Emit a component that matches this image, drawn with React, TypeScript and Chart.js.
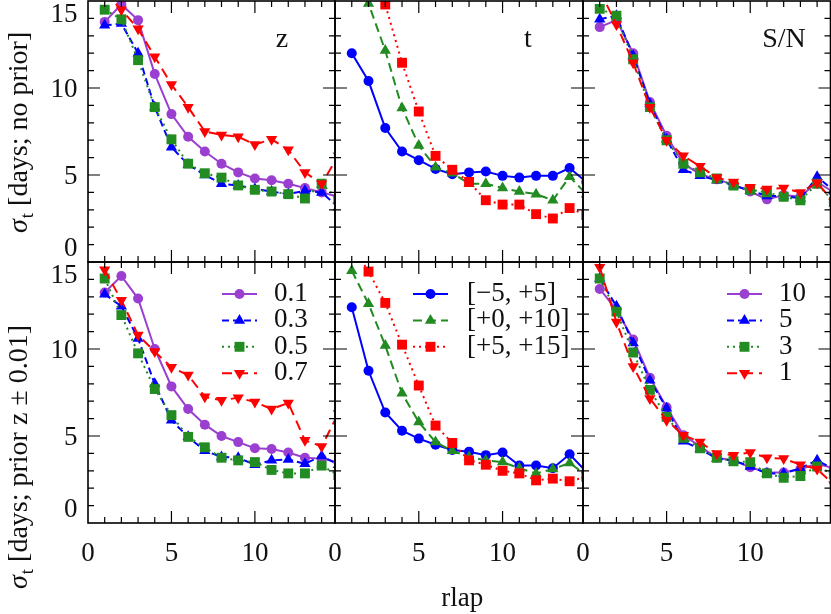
import React, { useEffect, useRef } from 'react';
import { Chart, registerables } from 'chart.js';

Chart.register(...registerables);

const W = 831;
const H = 614;

// ---------- data ----------
const rlap = [1, 2, 3, 4, 5, 6, 7, 8, 9, 10, 11, 12, 13, 14, 15];

// redshift panel, no prior
const zNoPrior01 = [13.8, 14.8, 13.9, 10.8, 8.5, 7.2, 6.35, 5.65, 5.15, 4.8, 4.7, 4.5, 4.25, 4.0, 3.75];
const zNoPrior03 = [13.6, 13.7, 12.0, 8.9, 6.6, 5.6, 5.0, 4.5, 4.4, 4.2, 4.05, 3.9, 4.1, 4.0, 3.15];
const zNoPrior05 = [14.5, 13.95, 11.6, 8.9, 7.05, 5.65, 5.1, 4.85, 4.4, 4.15, 4.05, 3.9, 3.65, 4.5, 3.6];
const zNoPrior07 = [15.5, 14.5, 13.4, 11.8, 10.2, 8.9, 7.5, 7.3, 7.2, 6.75, 7.05, 6.45, 5.15, 4.5, 6.1];

// phase panel, no prior
const tNoPriorM5P5 = [12.0, 10.4, 7.7, 6.35, 5.85, 5.35, 5.05, 5.15, 5.2, 4.95, 4.85, 4.95, 4.95, 5.4, 4.6];
const tNoPriorP0P10 = [17.5, 14.85, 12.15, 8.85, 6.7, 5.45, 5.1, 4.5, 4.5, 4.25, 4.05, 3.9, 3.55, 4.9, 3.9];
const tNoPriorP5P15 = [21.0, 18.0, 14.8, 11.45, 8.65, 6.1, 5.3, 4.6, 3.55, 3.3, 3.3, 2.75, 2.5, 3.1, 2.7];

// S/N panel, no prior
const snNoPrior10 = [13.5, 13.9, 12.0, 9.2, 7.25, 5.65, 5.05, 4.75, 4.45, 4.05, 3.6, 3.85, 3.75, 4.6, 4.0];
const snNoPrior5 = [13.95, 14.15, 11.85, 9.1, 7.05, 5.3, 4.95, 4.7, 4.4, 4.1, 3.8, 3.8, 3.65, 4.9, 4.1];
const snNoPrior3 = [14.55, 14.15, 11.65, 8.9, 7.0, 5.65, 5.15, 4.8, 4.4, 4.15, 4.0, 3.75, 3.55, 4.5, 3.45];
const snNoPrior1 = [15.6, 13.65, 11.45, 8.9, 7.0, 6.1, 5.5, 4.85, 4.6, 4.3, 4.2, 4.25, 4.0, 4.55, 3.45];

// redshift panel, prior z ± 0.01
const zPrior01 = [13.25, 14.2, 12.9, 10.0, 7.85, 6.55, 5.65, 5.0, 4.65, 4.3, 4.25, 4.05, 3.75, 3.7, 3.5];
const zPrior03 = [13.15, 12.45, 10.6, 8.0, 5.9, 4.95, 4.15, 3.8, 3.75, 3.35, 3.6, 3.65, 3.4, 3.85, 3.35];
const zPrior05 = [14.05, 11.95, 9.75, 7.7, 6.2, 4.95, 4.35, 3.75, 3.6, 3.5, 3.05, 2.85, 2.85, 3.3, 2.75];
const zPrior07 = [14.55, 12.8, 10.8, 9.85, 8.95, 8.5, 7.25, 7.05, 7.2, 6.95, 6.55, 6.9, 4.75, 4.4, 6.3];

// phase panel, prior
const tPriorM5P5 = [12.4, 8.75, 6.35, 5.3, 4.85, 4.5, 4.2, 4.1, 3.9, 4.05, 3.3, 3.3, 3.15, 3.95, 2.95];
const tPriorP0P10 = [14.5, 12.6, 10.2, 7.45, 5.8, 4.65, 4.15, 3.8, 3.6, 3.5, 3.15, 2.85, 3.1, 3.45, 2.75];
const tPriorP5P15 = [16.0, 14.45, 12.65, 10.25, 7.9, 5.6, 4.6, 3.6, 3.35, 3.0, 2.85, 2.45, 2.55, 2.4, 2.65];

// S/N panel, prior
const snPrior10 = [13.45, 12.25, 10.55, 8.35, 6.65, 5.05, 4.4, 3.75, 3.6, 3.2, 2.9, 2.9, 3.1, 3.4, 3.15];
const snPrior5 = [14.05, 12.45, 10.35, 8.2, 6.6, 4.7, 4.25, 3.7, 3.6, 3.25, 2.85, 2.85, 3.15, 3.6, 3.1];
const snPrior3 = [14.05, 12.15, 9.8, 7.65, 6.1, 4.9, 4.3, 3.75, 3.55, 3.5, 2.85, 2.6, 2.7, 3.25, 2.8];
const snPrior1 = [14.7, 11.55, 9.0, 7.15, 5.9, 5.05, 4.65, 4.0, 3.9, 4.05, 3.75, 3.7, 3.35, 3.1, 2.2];

// labels
const zLegend = ['0.1', '0.3', '0.5', '0.7'];
const tLegend = ['[\u22125, +5]', '[+0, +10]', '[+5, +15]'];
const snLegend = ['10', '5', '3', '1'];
const panelLabels = ['z', 't', 'S/N'];
const xTickLabels = [0, 5, 10];
const yTickLabels = [0, 5, 10, 15];
const yTitleTop = '[days; no prior]';
const yTitleBottom = '[days; prior z \u00b1 0.01]';
const xTitle = 'rlap';

// ---------- layout / style ----------
const COLS = [88, 335, 583, 830.5];
const ROWS = [1, 262, 523];
const X_MAX = 14.8;
const Y_MAX = 15;
const FONT = "'Liberation Serif', 'DejaVu Serif', serif";

const PURPLE = '#9a3fd0';
const BLUE = '#0000ff';
const GREEN = '#228b22';
const RED = '#ff0000';

type Shape = 'circle' | 'triangle' | 'rect';
type Style = { color: string; dash: number[]; shape: Shape; rot: number; r: number };

const zStyles: Style[] = [
  { color: PURPLE, dash: [], shape: 'circle', rot: 0, r: 5 },
  { color: BLUE, dash: [7, 4], shape: 'triangle', rot: 0, r: 6.5 },
  { color: GREEN, dash: [2, 4], shape: 'rect', rot: 0, r: 7 },
  { color: RED, dash: [10, 6], shape: 'triangle', rot: 180, r: 6.5 },
];
const tStyles: Style[] = [
  { color: BLUE, dash: [], shape: 'circle', rot: 0, r: 5 },
  { color: GREEN, dash: [9, 5], shape: 'triangle', rot: 0, r: 6.5 },
  { color: RED, dash: [2, 4], shape: 'rect', rot: 0, r: 7 },
];

type Panel = {
  row: number;
  col: number;
  series: number[][];
  styles: Style[];
  label?: string;
  labelX?: number;
  legend?: string[];
  legendLineX?: number;
  legendTextX?: number;
};

const panels: Panel[] = [
  { row: 0, col: 0, series: [zNoPrior01, zNoPrior03, zNoPrior05, zNoPrior07], styles: zStyles, label: panelLabels[0], labelX: 282 },
  { row: 0, col: 1, series: [tNoPriorM5P5, tNoPriorP0P10, tNoPriorP5P15], styles: tStyles, label: panelLabels[1], labelX: 528 },
  { row: 0, col: 2, series: [snNoPrior10, snNoPrior5, snNoPrior3, snNoPrior1], styles: zStyles, label: panelLabels[2], labelX: 784 },
  { row: 1, col: 0, series: [zPrior01, zPrior03, zPrior05, zPrior07], styles: zStyles, legend: zLegend, legendLineX: 222, legendTextX: 274 },
  { row: 1, col: 1, series: [tPriorM5P5, tPriorP0P10, tPriorP5P15], styles: tStyles, legend: tLegend, legendLineX: 413, legendTextX: 467 },
  { row: 1, col: 2, series: [snPrior10, snPrior5, snPrior3, snPrior1], styles: zStyles, legend: snLegend, legendLineX: 727, legendTextX: 779 },
];

function drawMarker(ctx: CanvasRenderingContext2D, s: Style, x: number, y: number) {
  ctx.save();
  ctx.fillStyle = s.color;
  ctx.setLineDash([]);
  ctx.beginPath();
  if (s.shape === 'circle') {
    ctx.arc(x, y, s.r, 0, Math.PI * 2);
  } else if (s.shape === 'rect') {
    const h = s.r * Math.SQRT1_2;
    ctx.rect(x - h, y - h, 2 * h, 2 * h);
  } else {
    let a = (s.rot * Math.PI) / 180;
    for (let k = 0; k < 3; k++) {
      const px = x + Math.sin(a) * s.r;
      const py = y - Math.cos(a) * s.r;
      if (k === 0) ctx.moveTo(px, py);
      else ctx.lineTo(px, py);
      a += (2 * Math.PI) / 3;
    }
    ctx.closePath();
  }
  ctx.fill();
  ctx.restore();
}

function drawYTitle(ctx: CanvasRenderingContext2D, xBase: number, yStart: number, rest: string) {
  ctx.save();
  ctx.translate(xBase, yStart);
  ctx.rotate(-Math.PI / 2);
  ctx.fillStyle = '#111';
  ctx.textAlign = 'left';
  ctx.textBaseline = 'alphabetic';
  ctx.font = `italic 28px ${FONT}`;
  ctx.fillText('\u03c3', 0, 0);
  let w = ctx.measureText('\u03c3').width;
  ctx.font = `19px ${FONT}`;
  ctx.fillText('t', w + 1, 6);
  w += 1 + ctx.measureText('t').width;
  ctx.font = `28px ${FONT}`;
  ctx.fillText(' ' + rest, w, 0);
  ctx.restore();
}

function makeDecor(p: Panel) {
  return {
    id: 'decor' + p.row + p.col,
    afterDatasetsDraw(chart: any) {
      const ctx: CanvasRenderingContext2D = chart.ctx;
      const { left, right, top, bottom } = chart.chartArea;
      const xs = chart.scales.x;
      const ys = chart.scales.y;
      ctx.save();
      ctx.setLineDash([]);
      ctx.strokeStyle = '#000';
      ctx.beginPath();
      for (let v = 1; v < X_MAX; v++) {
        const px = xs.getPixelForValue(v);
        const len = v % 5 === 0 ? 12 : 6;
        ctx.moveTo(px, bottom);
        ctx.lineTo(px, bottom - len);
        ctx.moveTo(px, top);
        ctx.lineTo(px, top + len);
      }
      for (let v = 1; v < Y_MAX; v++) {
        const py = ys.getPixelForValue(v);
        const len = v % 5 === 0 ? 12 : 6;
        ctx.moveTo(left, py);
        ctx.lineTo(left + len, py);
        ctx.moveTo(right, py);
        ctx.lineTo(right - len, py);
      }
      ctx.lineWidth = 1.2;
      ctx.stroke();
      ctx.lineWidth = 1.6;
      ctx.strokeRect(left, top, right - left, bottom - top);

      ctx.fillStyle = '#111';
      if (p.col === 0) {
        ctx.font = `27px ${FONT}`;
        ctx.textAlign = 'right';
        ctx.textBaseline = 'middle';
        for (const v of yTickLabels) {
          const off = v === Y_MAX ? 14 : v === 0 ? -13 : 2;
          ctx.fillText(String(v), 77.5, ys.getPixelForValue(v) + off);
        }
        if (p.row === 0) drawYTitle(ctx, 27, 233, yTitleTop);
        else drawYTitle(ctx, 27, 589, yTitleBottom);
      }
      if (p.row === 1) {
        ctx.font = `27px ${FONT}`;
        ctx.textAlign = 'center';
        ctx.textBaseline = 'middle';
        for (const v of xTickLabels) {
          ctx.fillText(String(v), xs.getPixelForValue(v), 554);
        }
        if (p.col === 1) {
          ctx.fillText(xTitle, (COLS[0] + COLS[3]) / 2 + 3, 599);
        }
      }
      if (p.label) {
        ctx.font = `28px ${FONT}`;
        ctx.textAlign = 'center';
        ctx.textBaseline = 'middle';
        ctx.fillText(p.label, p.labelX as number, 40);
      }
      if (p.legend) {
        const lx = p.legendLineX as number;
        const tx = p.legendTextX as number;
        p.legend.forEach((txt, i) => {
          const y = 294 + i * 26.4;
          const s = p.styles[i];
          ctx.save();
          ctx.strokeStyle = s.color;
          ctx.lineWidth = 2;
          ctx.setLineDash(s.dash);
          ctx.beginPath();
          ctx.moveTo(lx, y);
          ctx.lineTo(lx + 35, y);
          ctx.stroke();
          ctx.restore();
          drawMarker(ctx, s, lx + 17.5, y);
          ctx.fillStyle = '#111';
          ctx.font = `27px ${FONT}`;
          ctx.textAlign = 'left';
          ctx.textBaseline = 'middle';
          ctx.fillText(txt, tx, y);
        });
      }
      ctx.restore();
    },
  };
}

function PanelChart({ p }: { p: Panel }) {
  const ref = useRef<HTMLCanvasElement | null>(null);
  useEffect(() => {
    if (!ref.current) return;
    const n = p.series.length;
    const datasets = p.series.map((vals, i) => {
      const s = p.styles[i];
      return {
        data: rlap.map((x, k) => ({ x, y: vals[k] })),
        order: n - i,
        borderColor: s.color,
        backgroundColor: s.color,
        borderWidth: 2,
        borderDash: s.dash,
        borderCapStyle: 'butt' as const,
        tension: 0,
        fill: false,
        pointStyle: s.shape,
        pointRotation: s.rot,
        pointRadius: s.r,
        pointBorderWidth: 0,
        pointBackgroundColor: s.color,
        pointBorderColor: s.color,
        clip: 0,
      };
    });
    const chart = new Chart(ref.current, {
      type: 'line',
      data: { datasets },
      options: {
        responsive: false,
        animation: false,
        events: [],
        layout: {
          autoPadding: false,
          padding: {
            left: COLS[p.col],
            right: W - COLS[p.col + 1],
            top: ROWS[p.row],
            bottom: H - ROWS[p.row + 1],
          },
        },
        scales: {
          x: { type: 'linear', min: 0, max: X_MAX, display: false },
          y: { type: 'linear', min: 0, max: Y_MAX, display: false },
        },
        plugins: { legend: { display: false }, tooltip: { enabled: false } },
      },
      plugins: [makeDecor(p)],
    } as any);
    let alive = true;
    const fonts: any = (document as any).fonts;
    if (fonts && fonts.load) {
      Promise.all([
        fonts.load(`27px 'Liberation Serif'`),
        fonts.load(`italic 28px 'Liberation Serif'`),
      ])
        .then(() => {
          if (alive) chart.update();
        })
        .catch(() => {});
    }
    return () => {
      alive = false;
      chart.destroy();
    };
  }, [p]);
  return (
    <canvas
      ref={ref}
      width={W}
      height={H}
      style={{ position: 'absolute', left: 0, top: 0, width: W, height: H }}
    />
  );
}

export default function App() {
  return (
    <div style={{ position: 'fixed', left: 0, top: 0, width: W, height: H, background: '#fff' }}>
      {panels.map((p, i) => (
        <PanelChart key={i} p={p} />
      ))}
    </div>
  );
}
